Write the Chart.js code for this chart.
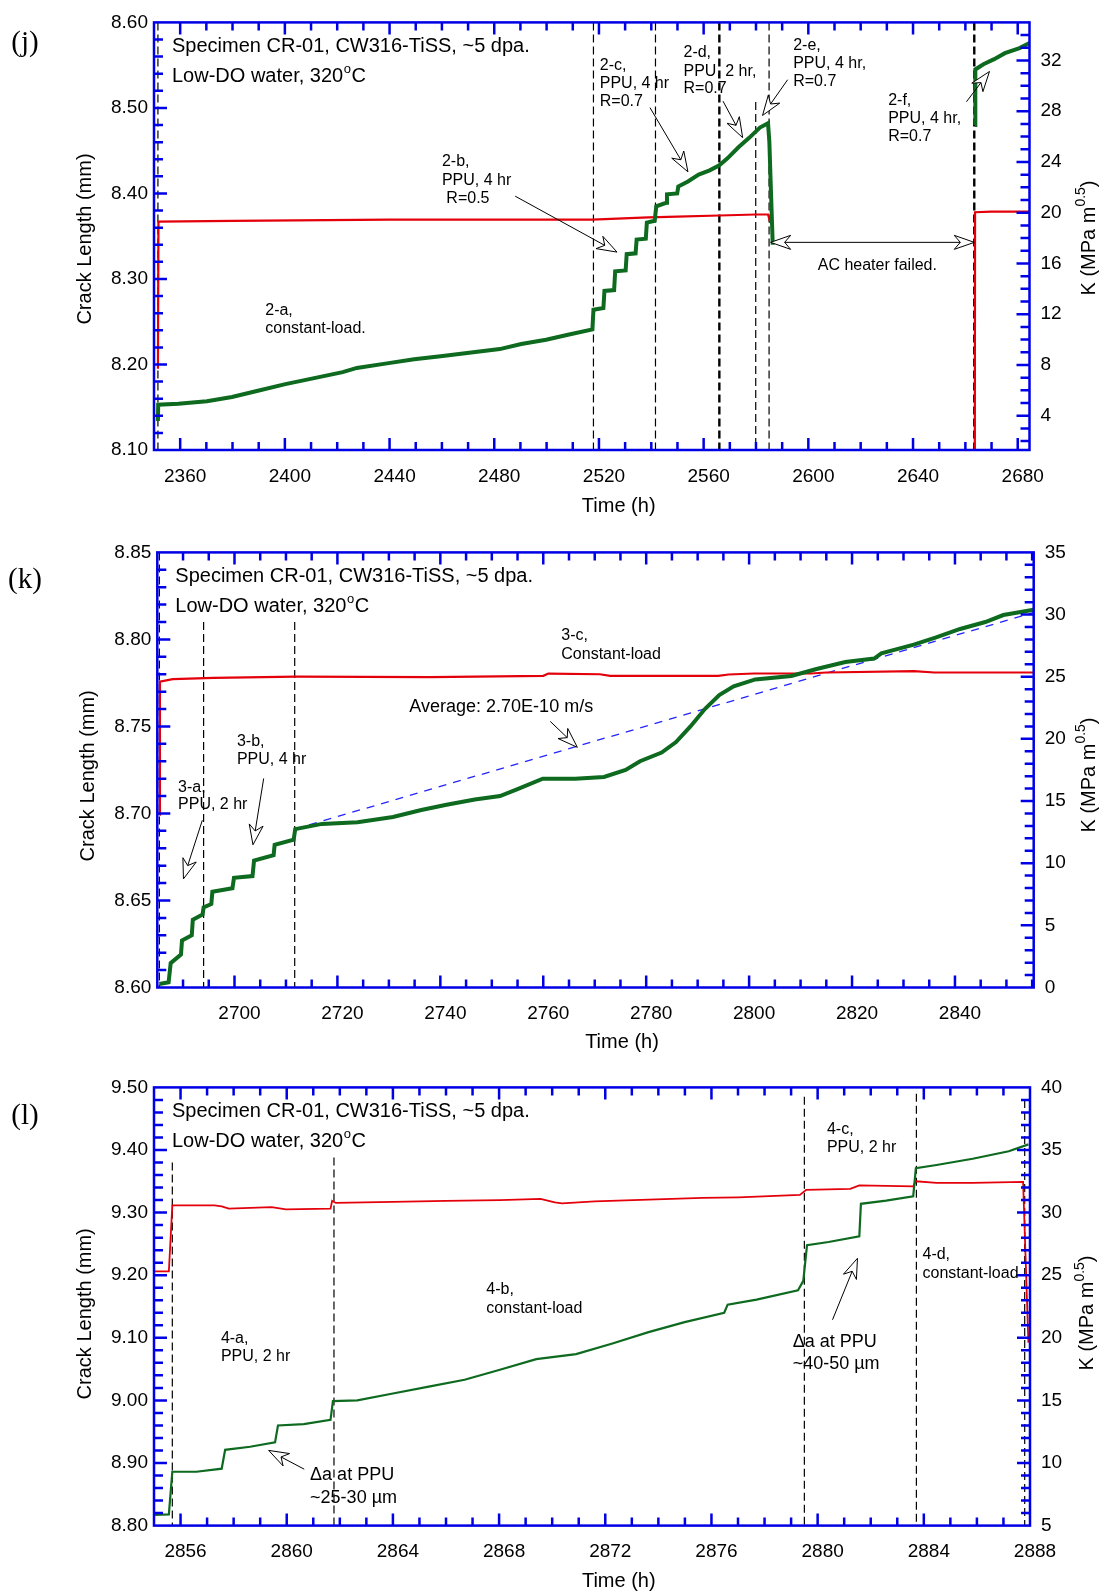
<!DOCTYPE html>
<html>
<head>
<meta charset="utf-8">
<script src="https://cdn.jsdelivr.net/npm/chart.js@4.4.1/dist/chart.umd.min.js"></script>
<style>
  html, body { margin: 0; padding: 0; background: #fff; }
  #page { position: relative; width: 1105px; height: 1596px; overflow: hidden; }
  canvas { position: absolute; left: 0; }
</style>
</head>
<body>
<div id="page">
  <canvas id="cj" width="1105" height="530" style="top:0px"></canvas>
  <canvas id="ck" width="1105" height="530" style="top:530px"></canvas>
  <canvas id="cl" width="1105" height="536" style="top:1060px"></canvas>
</div>
<script>
// ---------- panel (j): test segments 2-a ... 2-f ----------
const jTimeTicks  = [2360, 2400, 2440, 2480, 2520, 2560, 2600, 2640, 2680];
const jCrackTicks = [8.10, 8.20, 8.30, 8.40, 8.50, 8.60];
const jKTicks     = [4, 8, 12, 16, 20, 24, 28, 32];
const jCrackTime = [2351.5, 2351.6, 2359.3, 2370.2, 2379.8, 2389.3, 2400.2, 2411.2, 2422.1, 2427.5,
  2438.4, 2449.4, 2460.3, 2471.2, 2482.1, 2490.3, 2499.8, 2508.6, 2517.5, 2517.9,
  2521.7, 2522.1, 2525.8, 2526.2, 2530.2, 2530.6, 2534.0, 2534.4, 2537.9, 2538.3,
  2541.3, 2541.9, 2545.7, 2546.0, 2549.9, 2550.3, 2554.0, 2558.1, 2562.3, 2566.0,
  2569.1, 2573.3, 2577.4, 2581.5, 2584.6, 2585.1, 2585.7, 2586.4, 2620.0, 2663.7,
  2663.8, 2666.9, 2671.0, 2675.1, 2680.7, 2684.5];
const jCrackMm = [8.134, 8.153, 8.154, 8.157, 8.162, 8.169, 8.177, 8.184, 8.191, 8.196,
  8.201, 8.206, 8.210, 8.214, 8.218, 8.224, 8.229, 8.235, 8.241, 8.264,
  8.266, 8.286, 8.287, 8.309, 8.310, 8.329, 8.330, 8.346, 8.347, 8.366,
  8.368, 8.385, 8.389, 8.399, 8.400, 8.408, 8.414, 8.422, 8.427, 8.433,
  8.441, 8.454, 8.465, 8.477, 8.482, 8.461, 8.404, 8.340, null, 8.480,
  8.545, 8.551, 8.557, 8.564, 8.570, 8.576];
const jKTime = [2351.5, 2351.7, 2380, 2440, 2500, 2517.5, 2538.9, 2550, 2566, 2580,
  2584.6, 2585.5, 2620, 2663.6, 2663.7, 2670, 2684.5];
const jK = [7.7, 19.3, 19.35, 19.45, 19.46, 19.46, 19.63, 19.7, 19.78, 19.86,
  19.86, 19.2, null, 0, 20.04, 20.08, 20.08];
const jMarkTime  = [2351.5, 2517.9, 2541.6, 2566.0, 2579.9, 2585.0, 2663.4];
const jMarkTop   = [8.60, 8.60, 8.60, 8.60, 8.507, 8.60, 8.60];
const jMarkWidth = [1.2, 1.2, 1.2, 2.4, 1.2, 1.2, 2.4];

// ---------- panel (k): segments 3-a ... 3-c ----------
const kTimeTicks  = [2700, 2720, 2740, 2760, 2780, 2800, 2820, 2840];
const kCrackTicks = [8.60, 8.65, 8.70, 8.75, 8.80, 8.85];
const kKTicks     = [0, 5, 10, 15, 20, 25, 30, 35];
const kCrackTime = [2685.4, 2687.2, 2687.6, 2689.6, 2689.8, 2691.7, 2691.9, 2693.8, 2694.0, 2695.5,
  2695.7, 2699.6, 2699.9, 2703.5, 2703.8, 2707.6, 2707.8, 2711.5, 2711.8, 2717.0,
  2723.9, 2730.8, 2736.3, 2741.2, 2746.7, 2751.6, 2755.0, 2759.9, 2766.2, 2771.8,
  2776.0, 2778.8, 2783.0, 2785.8, 2788.6, 2791.4, 2794.2, 2797.0, 2801.2, 2808.2,
  2813.1, 2818.7, 2824.3, 2825.7, 2832.0, 2836.2, 2841.0, 2845.9, 2849.4, 2855.3];
const kCrackMm = [8.602, 8.603, 8.614, 8.619, 8.627, 8.630, 8.639, 8.642, 8.646, 8.648,
  8.655, 8.657, 8.663, 8.664, 8.673, 8.676, 8.682, 8.685, 8.691, 8.694,
  8.695, 8.698, 8.702, 8.705, 8.708, 8.710, 8.714, 8.720, 8.720, 8.721,
  8.725, 8.730, 8.735, 8.741, 8.750, 8.760, 8.768, 8.773, 8.777, 8.779,
  8.783, 8.787, 8.789, 8.792, 8.797, 8.801, 8.806, 8.810, 8.814, 8.817];
const kKTime = [2685.4, 2685.5, 2688, 2696, 2712, 2738, 2760, 2761, 2771, 2773,
  2794, 2796, 2801, 2812, 2815, 2832, 2836, 2855.3];
const kK = [13.9, 24.6, 24.8, 24.9, 25.0, 24.97, 25.07, 25.25, 25.2, 25.07,
  25.07, 25.18, 25.26, 25.26, 25.34, 25.45, 25.34, 25.34];
const kMarkTime  = [2685.4, 2694.0, 2711.7];
const kMarkTop   = [8.85, 8.81, 8.81];
const kMarkWidth = [1.2, 1.2, 1.2];
const kAvgTime = [2711.7, 2855.3];
const kAvgMm   = [8.691, 8.8155];

// ---------- panel (l): segments 4-a ... 4-d ----------
const lTimeTicks  = [2856, 2860, 2864, 2868, 2872, 2876, 2880, 2884, 2888];
const lCrackTicks = [8.80, 8.90, 9.00, 9.10, 9.20, 9.30, 9.40, 9.50];
const lKTicks     = [5, 10, 15, 20, 25, 30, 35, 40];
const lCrackTime = [2855.0, 2855.56, 2855.69, 2856.6, 2857.55, 2857.68, 2858.62, 2859.56, 2859.67, 2860.64,
  2861.65, 2861.74, 2862.66, 2864.0, 2865.35, 2866.7, 2868.03, 2869.4, 2870.9, 2872.27,
  2873.63, 2874.99, 2876.48, 2876.61, 2877.7, 2879.26, 2879.46, 2879.6, 2880.41, 2881.57,
  2881.63, 2882.58, 2883.6, 2883.7, 2884.48, 2885.84, 2887.2, 2887.94];
const lCrackMm = [8.817, 8.818, 8.886, 8.886, 8.891, 8.921, 8.926, 8.933, 8.960, 8.962,
  8.969, 8.999, 9.000, 9.011, 9.022, 9.033, 9.049, 9.066, 9.074, 9.091,
  9.109, 9.125, 9.140, 9.153, 9.161, 9.176, 9.191, 9.248, 9.253, 9.262,
  9.314, 9.319, 9.326, 9.371, 9.376, 9.386, 9.398, 9.409];
const lKTime = [2855.0, 2855.56, 2855.69, 2857.28, 2857.55, 2857.82, 2859.43, 2859.97, 2861.65, 2861.71,
  2861.85, 2864.0, 2866.0, 2868.03, 2869.56, 2870.1, 2870.37, 2871.6, 2873.63, 2875.66,
  2877.02, 2879.33, 2879.57, 2881.23, 2881.57, 2883.6, 2883.7, 2884.48, 2885.84, 2887.74,
  2887.94];
const lK = [25.31, 25.31, 30.58, 30.58, 30.5, 30.31, 30.44, 30.25, 30.31, 30.94,
  30.77, 30.85, 30.93, 30.99, 31.09, 30.82, 30.73, 30.9, 31.03, 31.17,
  31.22, 31.41, 31.82, 31.9, 32.18, 32.1, 32.5, 32.37, 32.37, 32.45,
  19.6];
const lMarkTime  = [2855.69, 2861.78, 2879.5, 2883.72, 2887.8];
const lMarkTop   = [9.38, 9.388, 9.485, 9.49, 9.48];
const lMarkWidth = [1.2, 1.2, 1.2, 1.2, 1.2];

// ---------- drawing setup ----------
const FONT  = '"Liberation Sans", Arial, Helvetica, sans-serif';
const SERIF = '"Liberation Serif", "Times New Roman", serif';
const AXIS_BLUE = '#0000e6';
const GREEN = '#0d6a1f';
const RED = '#e3000b';
const TREND_BLUE = '#2424ff';
Chart.defaults.font.family = FONT;

const xy = (xs, ys) => xs.map((x, i) => ({ x: x, y: ys[i] }));

function steps(min, max, step) {
  const out = [];
  for (let i = Math.ceil(min / step - 1e-6); i * step <= max + 1e-6; i++) out.push(+(i * step).toFixed(6));
  return out;
}
function isMultiple(v, step) {
  const r = v / step;
  return Math.abs(r - Math.round(r)) < 1e-6;
}

function text(ctx, str, x, y, size, align, family) {
  ctx.font = size + 'px ' + (family || FONT);
  ctx.textAlign = align || 'left';
  ctx.textBaseline = 'middle';
  ctx.fillStyle = '#000';
  ctx.fillText(str, x, y);
}

// open arrowhead with a notched back, tip at (x2, y2)
function arrowHead(ctx, x1, y1, x2, y2) {
  const ang = Math.atan2(y2 - y1, x2 - x1);
  const c = Math.cos(ang), s = Math.sin(ang);
  const L = 20, W = 7, N = 14;
  const bx = x2 - L * c, by = y2 - L * s;
  const nx = x2 - N * c, ny = y2 - N * s;
  ctx.beginPath();
  ctx.moveTo(x2, y2);
  ctx.lineTo(bx - W * s, by + W * c);
  ctx.lineTo(nx, ny);
  ctx.lineTo(bx + W * s, by - W * c);
  ctx.closePath();
  ctx.fillStyle = '#fff';
  ctx.fill();
  ctx.stroke();
  return [nx, ny];
}
function arrow(ctx, x1, y1, x2, y2, both) {
  ctx.strokeStyle = '#000';
  ctx.lineWidth = 1;
  let s = [x1, y1];
  const e = arrowHead(ctx, x1, y1, x2, y2);
  if (both) s = arrowHead(ctx, x2, y2, x1, y1);
  ctx.beginPath();
  ctx.moveTo(s[0], s[1]);
  ctx.lineTo(e[0], e[1]);
  ctx.stroke();
}

function decoPlugin(spec) {
  return {
    id: 'deco',
    afterDatasetsDraw(chart) {
      const ctx = chart.ctx, a = chart.chartArea;
      const sx = chart.scales.x, sy = chart.scales.y, sk = chart.scales.y2;
      const X = v => sx.getPixelForValue(v), Y = v => sy.getPixelForValue(v);
      ctx.save();

      // annotation texts and arrows (placed in data units)
      spec.notes.forEach(n => text(ctx, n.t, X(n.x), Y(n.y), n.size || 16));
      spec.arrows.forEach(r => arrow(ctx, X(r[0]), Y(r[1]), X(r[2]), Y(r[3]), r[4]));

      // specimen header
      const hx = a.left + 18;
      text(ctx, 'Specimen CR-01, CW316-TiSS, ~5 dpa.', hx, a.top + 24, 20);
      let px = hx; const py = a.top + 54.5;
      text(ctx, 'Low-DO water, 320', px, py, 20);
      px += ctx.measureText('Low-DO water, 320').width;
      text(ctx, 'o', px + 0.5, py - 7, 13);
      px += ctx.measureText('o').width + 1;
      text(ctx, 'C', px, py, 20);

      // frame
      ctx.strokeStyle = AXIS_BLUE;
      ctx.lineWidth = 2.5;
      ctx.strokeRect(a.left, a.top, a.right - a.left, a.bottom - a.top);

      // inward tick marks
      ctx.lineWidth = 2.5;
      ctx.beginPath();
      steps(spec.xMin, spec.xMax, spec.xMinor).forEach(v => {
        if (v <= spec.xMin || v >= spec.xMax) return;
        const p = X(v), len = isMultiple(v, spec.xMajor) ? 12 : 8;
        ctx.moveTo(p, a.bottom); ctx.lineTo(p, a.bottom - len);
        ctx.moveTo(p, a.top); ctx.lineTo(p, a.top + len);
      });
      steps(spec.yMin, spec.yMax, spec.yMinor).forEach(v => {
        if (v <= spec.yMin + 1e-9 || v >= spec.yMax - 1e-9) return;
        const p = Y(v), len = isMultiple(v, spec.yMajor) ? 13 : 9;
        ctx.moveTo(a.left, p); ctx.lineTo(a.left + len, p);
      });
      steps(spec.kMin, spec.kMax, spec.kMinor).forEach(v => {
        if (v <= spec.kMin + 1e-9 || v >= spec.kMax - 1e-9) return;
        const p = sk.getPixelForValue(v), len = isMultiple(v, spec.kMajor) ? 13 : 9;
        ctx.moveTo(a.right, p); ctx.lineTo(a.right - len, p);
      });
      ctx.stroke();

      // axis titles
      const t = spec.titles;
      text(ctx, 'Time (h)', t.x[0], t.x[1], 20, 'center');
      ctx.save();
      ctx.translate(t.y[0], t.y[1]);
      ctx.rotate(-Math.PI / 2);
      text(ctx, 'Crack Length (mm)', 0, 0, 20, 'center');
      ctx.restore();

      ctx.save();
      ctx.translate(t.k[0], t.k[1]);
      ctx.rotate(-Math.PI / 2);
      ctx.font = '20px ' + FONT;
      const wA = ctx.measureText('K (MPa m').width, wC = ctx.measureText(')').width;
      ctx.font = '14px ' + FONT;
      const wB = ctx.measureText('0.5').width;
      let kx = -(wA + wB + wC) / 2;
      text(ctx, 'K (MPa m', kx, 0, 20); kx += wA;
      text(ctx, '0.5', kx, -8, 14); kx += wB;
      text(ctx, ')', kx, 0, 20);
      ctx.restore();

      // panel letter
      text(ctx, spec.letter, t.letter[0], t.letter[1], 29, 'center', SERIF);
      ctx.restore();
    }
  };
}

function makeChart(id, spec) {
  const el = document.getElementById(id);
  const W = el.width, H = el.height, A = spec.area;
  const datasets = [
    { data: xy(spec.crackTime, spec.crackMm), yAxisID: 'y', borderColor: GREEN, borderWidth: spec.lineW[0] },
    { data: xy(spec.kTime, spec.kVal), yAxisID: 'y2', borderColor: RED, borderWidth: spec.lineW[1] }
  ];
  if (spec.avgTime) {
    datasets.push({ data: xy(spec.avgTime, spec.avgMm), yAxisID: 'y', borderColor: TREND_BLUE,
      borderWidth: 1.3, borderDash: [8, 7] });
  }
  spec.markTime.forEach((t, i) => {
    datasets.push({ data: [{ x: t, y: spec.markTop[i] }, { x: t, y: spec.yMin }], yAxisID: 'y',
      borderColor: '#000', borderWidth: spec.markWidth[i], borderDash: [8, 4] });
  });
  datasets.forEach(d => { d.pointRadius = 0; d.fill = false; d.tension = 0; d.spanGaps = false; });

  const tickFont = { family: FONT, size: 19 };
  const hidden = { grid: { display: false, drawTicks: false }, border: { display: false } };
  return new Chart(el, {
    type: 'line',
    data: { datasets },
    options: {
      responsive: false,
      animation: false,
      devicePixelRatio: 1,
      events: [],
      layout: { padding: { top: A.top, left: 0, right: 0, bottom: 0 } },
      plugins: { legend: { display: false }, tooltip: { enabled: false } },
      scales: {
        x: Object.assign({
          type: 'linear', min: spec.xMin, max: spec.xMax,
          afterFit: s => { s.height = H - A.bottom; },
          afterBuildTicks: s => { s.ticks = spec.xTicks.map(v => ({ value: v })); },
          ticks: { font: tickFont, color: '#000', padding: 15, labelOffset: 5, autoSkip: false,
            maxRotation: 0, callback: v => String(v) }
        }, hidden),
        y: Object.assign({
          type: 'linear', position: 'left', min: spec.yMin, max: spec.yMax,
          afterFit: s => { s.width = A.left; },
          afterBuildTicks: s => { s.ticks = spec.yTicks.map(v => ({ value: v })); },
          ticks: { font: tickFont, color: '#000', padding: 6, autoSkip: false,
            callback: v => Number(v).toFixed(2) }
        }, hidden),
        y2: Object.assign({
          type: 'linear', position: 'right', min: spec.kMin, max: spec.kMax,
          afterFit: s => { s.width = W - A.right; },
          afterBuildTicks: s => { s.ticks = spec.kTicks.map(v => ({ value: v })); },
          ticks: { font: tickFont, color: '#000', padding: 11, autoSkip: false,
            callback: v => String(v) }
        }, hidden)
      }
    },
    plugins: [decoPlugin(spec)]
  });
}

makeChart('cj', {
  area: { left: 154, right: 1029.5, top: 12, bottom: 450 },
  xMin: 2350, xMax: 2684.5, xMajor: 40, xMinor: 10, xTicks: jTimeTicks,
  yMin: 8.10, yMax: 8.60, yMajor: 0.1, yMinor: 0.02, yTicks: jCrackTicks,
  kMin: 1.3, kMax: 35.0, kMajor: 4, kMinor: 1, kTicks: jKTicks,
  crackTime: jCrackTime, crackMm: jCrackMm, kTime: jKTime, kVal: jK,
  markTime: jMarkTime, markTop: jMarkTop, markWidth: jMarkWidth,
  lineW: [4, 2.2],
  notes: [
    { t: '2-a,', x: 2392.5, y: 8.2629 }, { t: 'constant-load.', x: 2392.5, y: 8.2416 },
    { t: '2-b,', x: 2460.0, y: 8.4368 }, { t: 'PPU, 4 hr', x: 2460.0, y: 8.4151 }, { t: ' R=0.5', x: 2460.0, y: 8.3937 },
    { t: '2-c,', x: 2520.3, y: 8.549 }, { t: 'PPU, 4 hr', x: 2520.3, y: 8.5281 }, { t: 'R=0.7', x: 2520.3, y: 8.5079 },
    { t: '2-d,', x: 2552.3, y: 8.5643 }, { t: 'PPU, 2 hr,', x: 2552.3, y: 8.5429 }, { t: 'R=0.7', x: 2552.3, y: 8.5224 },
    { t: '2-e,', x: 2594.2, y: 8.5726 }, { t: 'PPU, 4 hr,', x: 2594.2, y: 8.5513 }, { t: 'R=0.7', x: 2594.2, y: 8.5307 },
    { t: '2-f,', x: 2630.5, y: 8.509 }, { t: 'PPU, 4 hr,', x: 2630.5, y: 8.4881 }, { t: 'R=0.7', x: 2630.5, y: 8.4668 },
    { t: 'AC heater failed.', x: 2603.6, y: 8.3161 }
  ],
  arrows: [
    [2488.0, 8.3968, 2526.9, 8.3314],
    [2539.5, 8.5003, 2554.0, 8.4253],
    [2567.4, 8.5079, 2574.9, 8.4653],
    [2592.1, 8.533, 2582.5, 8.4912],
    [2660.4, 8.5072, 2669.2, 8.5426],
    [2585.6, 8.3428, 2663.4, 8.3428, true]
  ],
  titles: { x: [618.7, 506.7], y: [85.7, 239], k: [1089, 238], letter: [25, 43] },
  letter: '(j)'
});

makeChart('ck', {
  area: { left: 157.3, right: 1033.7, top: 20, bottom: 457.5 },
  xMin: 2685, xMax: 2855.3, xMajor: 20, xMinor: 5, xTicks: kTimeTicks,
  yMin: 8.60, yMax: 8.85, yMajor: 0.05, yMinor: 0.01, yTicks: kCrackTicks,
  kMin: 0, kMax: 35, kMajor: 5, kMinor: 1, kTicks: kKTicks,
  crackTime: kCrackTime, crackMm: kCrackMm, kTime: kKTime, kVal: kK,
  avgTime: kAvgTime, avgMm: kAvgMm,
  markTime: kMarkTime, markTop: kMarkTop, markWidth: kMarkWidth,
  lineW: [4, 2.2],
  notes: [
    { t: '3-a,', x: 2689.03, y: 8.7151 }, { t: 'PPU, 2 hr', x: 2689.03, y: 8.7049 },
    { t: '3-b,', x: 2700.47, y: 8.7414 }, { t: 'PPU, 4 hr', x: 2700.47, y: 8.731 },
    { t: 'Average: 2.70E-10 m/s', x: 2733.98, y: 8.7609, size: 18 },
    { t: '3-c,', x: 2763.5, y: 8.802 }, { t: 'Constant-load', x: 2763.5, y: 8.7913 }
  ],
  arrows: [
    [2693.75, 8.6961, 2690.08, 8.6624],
    [2705.67, 8.7201, 2703.59, 8.682],
    [2761.36, 8.7529, 2766.62, 8.738]
  ],
  titles: { x: [622, 512.5], y: [88.6, 245.8], k: [1089.5, 245], letter: [25, 50] },
  letter: '(k)'
});

makeChart('cl', {
  area: { left: 154, right: 1030, top: 27.4, bottom: 465.6 },
  xMin: 2855, xMax: 2888, xMajor: 4, xMinor: 1, xTicks: lTimeTicks,
  yMin: 8.80, yMax: 9.50, yMajor: 0.1, yMinor: 0.02, yTicks: lCrackTicks,
  kMin: 5, kMax: 40, kMajor: 5, kMinor: 1, kTicks: lKTicks,
  crackTime: lCrackTime, crackMm: lCrackMm, kTime: lKTime, kVal: lK,
  markTime: lMarkTime, markTop: lMarkTop, markWidth: lMarkWidth,
  lineW: [2.2, 1.8],
  notes: [
    { t: '4-a,', x: 2857.52, y: 9.0987 }, { t: 'PPU, 2 hr', x: 2857.52, y: 9.0697 },
    { t: '\u0394a at PPU', x: 2860.88, y: 8.8813, size: 18 }, { t: '~25-30 \u00b5m', x: 2860.88, y: 8.8436, size: 18 },
    { t: '4-b,', x: 2867.52, y: 9.1768 }, { t: 'constant-load', x: 2867.52, y: 9.1462 },
    { t: '4-c,', x: 2880.35, y: 9.432 }, { t: 'PPU, 2 hr', x: 2880.35, y: 9.4034 },
    { t: '4-d,', x: 2883.95, y: 9.2324 }, { t: 'constant-load', x: 2883.95, y: 9.2024 },
    { t: '\u0394a at PPU', x: 2879.06, y: 9.0927, size: 18 }, { t: '~40-50 \u00b5m', x: 2879.06, y: 9.0577, size: 18 }
  ],
  arrows: [
    [2860.66, 8.8901, 2859.32, 8.9201],
    [2880.56, 9.1288, 2881.5, 9.227]
  ],
  titles: { x: [618.8, 521.4], y: [85.7, 253.8], k: [1087.8, 253], letter: [25, 56] },
  letter: '(l)'
});
</script>
</body>
</html>
